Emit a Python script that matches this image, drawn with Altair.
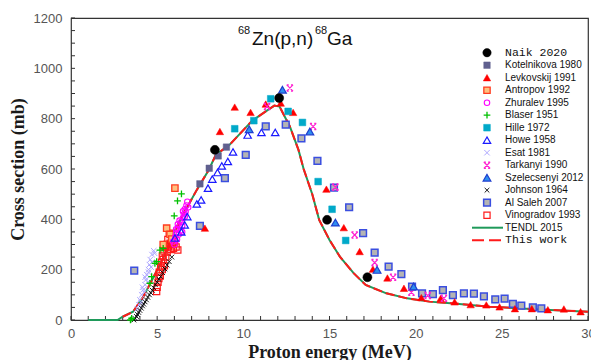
import altair as alt
import pandas as pd

# ---------------- data ----------------
tendl_E = [1.0, 2.0, 2.7, 3.0, 3.6, 4.2, 4.8, 5.4, 5.9, 6.5, 7.3, 8.0, 8.4, 9.2, 10.5, 11.3, 11.8, 12.1,
           12.7, 13.2, 13.5, 14.0, 14.4, 15.0, 15.6, 16.4, 17.1, 18.3, 19.5, 20.8, 22.2, 24.3, 27.2, 30.0]
tendl_mb = [0, 0, 0, 13, 33, 93, 172, 252, 338, 418, 517, 597, 656, 696, 791, 829, 852, 848,
            769, 676, 600, 500, 398, 318, 252, 186, 139, 106, 86, 73, 66, 53, 42, 33]
work_E = [3.0, 3.6, 4.2, 4.8, 5.4, 5.9, 6.5, 7.3, 8.0, 8.4, 9.2, 10.5, 11.3, 11.8, 12.1,
          12.7, 13.2, 13.5, 14.0, 14.4, 15.0, 15.6, 16.4, 17.1, 18.3, 19.5, 20.8, 22.2, 24.3, 27.2, 30.0]
work_mb = [13, 33, 93, 172, 252, 338, 418, 517, 597, 656, 696, 791, 829, 852, 848,
           769, 676, 600, 500, 398, 318, 252, 186, 139, 106, 86, 73, 66, 53, 42, 33]

naik_E = [8.35, 12.08, 14.86, 17.2]
naik_mb = [676, 882, 398, 170]
kotel_E = [7.48, 8.02, 8.54, 9.02]
kotel_mb = [541, 603, 652, 687]
levk_E = [7.77, 8.64, 9.5, 10.42, 11.3, 12.17, 12.89, 14.82, 15.83, 16.75, 17.52, 18.36, 19.32, 20.33,
          21.45, 22.26, 23.19, 24.1, 24.87, 25.76, 26.74, 27.67, 28.6, 29.57]
levk_mb = [365, 749, 846, 825, 858, 862, 825, 520, 367, 272, 202, 167, 126, 89,
           86, 72, 61, 60, 52, 45, 45, 41, 44, 33]
antropov_E = [6.03, 5.55, 5.75, 5.35, 5.85]
antropov_mb = [524, 365, 340, 300, 322]
zhuralev_E = [5.93, 6.0, 6.05, 6.1, 6.15, 6.2, 6.25, 6.3, 6.35, 6.4, 6.45, 6.5, 6.55, 6.6, 6.65, 6.7,
              6.75, 6.8, 6.3, 6.2, 6.45, 6.6, 6.1, 6.5]
zhuralev_mb = [312, 300, 330, 345, 320, 360, 340, 372, 355, 390, 375, 405, 420, 440, 430, 455,
               470, 448, 395, 380, 350, 410, 360, 432]
blaser_E = [3.45, 3.52, 4.58, 4.68, 4.87, 4.97, 5.16, 5.35, 5.99, 6.18, 6.41]
blaser_mb = [0, 7, 146, 172, 225, 232, 278, 285, 414, 473, 501]
hille_E = [9.5, 10.61, 11.59, 12.6, 13.43, 14.34, 15.15, 15.94]
hille_mb = [760, 792, 879, 829, 785, 550, 440, 316]
howe_E = [6.03, 6.4, 6.6, 6.75, 7.3, 7.55, 7.95, 8.2, 8.5, 8.75, 9.1, 9.4, 10.25, 11.05, 11.85]
howe_mb = [326, 350, 378, 411, 461, 477, 524, 560, 586, 612, 630, 668, 735, 745, 745]
esat_E = [3.85, 3.95, 4.0, 4.05, 4.1, 4.15, 4.2, 4.25, 4.3, 4.3, 4.35, 4.4, 4.45, 4.5, 4.5, 4.55,
          4.6, 4.65, 4.7, 4.7, 4.8, 4.85]
esat_mb = [45, 60, 80, 70, 100, 130, 120, 110, 140, 170, 160, 180, 150, 200, 190, 220,
           240, 210, 260, 230, 275, 265]
tark_E = [11.38, 12.7, 14.05, 15.34, 16.46, 17.62, 18.69, 19.75, 20.7, 21.64]
tark_mb = [848, 922, 769, 528, 338, 228, 170, 110, 97, 86]
szel_E = [10.34, 12.27, 13.86, 15.34, 17.76, 19.88]
szel_mb = [758, 915, 749, 387, 199, 133]
johnson_E = [3.65, 3.72, 3.8, 3.86, 3.93, 4.0, 4.08, 4.15, 4.22, 4.3, 4.38, 4.46, 4.55, 4.63, 4.72,
             4.8, 4.9, 5.0, 5.1, 5.2, 5.32, 5.45, 5.58, 5.7, 5.85]
johnson_mb = [0, 6, 14, 22, 30, 38, 47, 56, 63, 72, 80, 90, 100, 108, 118,
              128, 140, 150, 162, 173, 188, 203, 218, 232, 250]
alsaleh_E = [3.67, 7.48, 8.93, 10.14, 11.3, 12.46, 13.37, 14.3, 15.26, 16.14, 16.95, 17.62, 18.43,
             19.17, 19.79, 20.37, 21.0, 21.58, 22.16, 22.8, 23.38, 23.96, 24.62, 25.16, 25.64,
             26.13, 26.8, 27.29]
alsaleh_mb = [196, 374, 564, 656, 769, 776, 722, 632, 526, 448, 345, 268, 212,
              182, 133, 106, 103, 119, 99, 106, 105, 94, 82, 85, 64, 57, 50, 46]
vino_E = [4.97, 5.0, 5.05, 5.1, 5.12, 5.18, 5.2, 5.25, 5.3, 5.3, 5.35, 5.4, 5.42, 5.48, 5.5, 5.55,
          5.58, 5.62, 5.65, 5.7, 5.75, 5.8, 5.85, 5.9, 5.95, 6.0, 6.1, 6.2]
vino_mb = [113, 130, 150, 165, 190, 175, 210, 230, 200, 255, 240, 270, 215, 290, 250, 300,
           270, 320, 290, 345, 305, 280, 320, 300, 285, 310, 290, 278]

x_ticks_major = [0, 5, 10, 15, 20, 25, 30]
y_ticks_major = [0, 200, 400, 600, 800, 1000, 1200]
x_ticks_minor = list(range(0, 31))
y_ticks_minor = list(range(0, 1201, 50))

legend_labels = ["Naik 2020", "Kotelnikova 1980", "Levkovskij 1991", "Antropov 1992", "Zhuralev 1995",
                 "Blaser 1951", "Hille 1972", "Howe 1958", "Esat 1981", "Tarkanyi 1990",
                 "Szelecsenyi 2012", "Johnson 1964", "Al Saleh 2007", "Vinogradov 1993",
                 "TENDL 2015", "This work"]

# ---------------- styles ----------------
PLUS = "M-1,0L1,0M0,-1L0,1"
XSH = "M-1,-1L1,1M-1,1L1,-1"
TARK = "M-1,-1L1,1M-1,1L1,-1M-1,-1L-0.35,-1M0.35,-1L1,-1M-1,1L-0.35,1M0.35,1L1,1"

styles = {
    "Naik 2020": dict(shape="circle", size=81, filled=True, fill="#000000", stroke="#000000", strokeWidth=0.5),
    "Kotelnikova 1980": dict(shape="square", size=42, filled=True, fill="#60608f", stroke="#60608f", strokeWidth=0.5),
    "Levkovskij 1991": dict(shape="triangle-up", size=55, filled=True, fill="#ff0000", stroke="#ff0000", strokeWidth=0.5),
    "Antropov 1992": dict(shape="square", size=40, filled=True, fill="#ffc080", stroke="#ff3b1f", strokeWidth=1.3),
    "Zhuralev 1995": dict(shape="circle", size=30, filled=False, color="#ff00ff", strokeWidth=1.1),
    "Blaser 1951": dict(shape=PLUS, size=45, filled=False, color="#00c000", strokeWidth=1.3),
    "Hille 1972": dict(shape="square", size=45, filled=True, fill="#00a9c9", stroke="#00a9c9", strokeWidth=0.5),
    "Howe 1958": dict(shape="triangle-up", size=55, filled=False, color="#1a1aff", strokeWidth=1.2),
    "Esat 1981": dict(shape=XSH, size=30, filled=False, color="#aea8ff", strokeWidth=1.0),
    "Tarkanyi 1990": dict(shape=TARK, size=40, filled=False, color="#ff20d0", strokeWidth=1.2),
    "Szelecsenyi 2012": dict(shape="triangle-up", size=60, filled=True, fill="#2f8fef", stroke="#1f3fcf", strokeWidth=1.2),
    "Johnson 1964": dict(shape=XSH, size=22, filled=False, color="#000000", strokeWidth=0.9),
    "Al Saleh 2007": dict(shape="square", size=45, filled=True, fill="#b4b4b4", stroke="#3a4ee0", strokeWidth=1.5),
    "Vinogradov 1993": dict(shape="square", size=38, filled=False, color="#ff1a1a", strokeWidth=1.2),
}

series = [
    ("Vinogradov 1993", vino_E, vino_mb),
    ("Antropov 1992", antropov_E, antropov_mb),
    ("Esat 1981", esat_E, esat_mb),
    ("Zhuralev 1995", zhuralev_E, zhuralev_mb),
    ("Johnson 1964", johnson_E, johnson_mb),
    ("Blaser 1951", blaser_E, blaser_mb),
    ("Howe 1958", howe_E, howe_mb),
    ("Kotelnikova 1980", kotel_E, kotel_mb),
    ("Al Saleh 2007", alsaleh_E, alsaleh_mb),
    ("Levkovskij 1991", levk_E, levk_mb),
    ("Hille 1972", hille_E, hille_mb),
    ("Tarkanyi 1990", tark_E, tark_mb),
    ("Szelecsenyi 2012", szel_E, szel_mb),
    ("Naik 2020", naik_E, naik_mb),
]

W, H = 517, 302

xscale = alt.Scale(domain=[0, 30], nice=False, zero=False)
yscale = alt.Scale(domain=[0, 1200], nice=False, zero=False)
xaxis = alt.Axis(values=x_ticks_major, format="d", ticks=False, domain=False, grid=False, labelFlush=False,
                 labelOverlap=False, labelFont="Liberation Sans", labelFontSize=13, labelColor="#555555",
                 labelPadding=7, titleFont="Liberation Serif", titleFontSize=18, titleFontWeight="bold",
                 titleColor="#1a1a1a", titleY=37, titleBaseline="alphabetic")
yaxis = alt.Axis(values=y_ticks_major, format="d", ticks=False, domain=False, grid=False, labelFlush=False,
                 labelOverlap=False, labelFont="Liberation Sans", labelFontSize=13, labelColor="#555555",
                 labelPadding=9, titleFont="Liberation Serif", titleFontSize=18, titleFontWeight="bold",
                 titleColor="#1a1a1a", titleX=-53, titleY=H / 2, titleAlign="center",
                 titleBaseline="middle", titleAngle=-90)
X = alt.X("E:Q", scale=xscale, axis=xaxis, title="Proton energy (MeV)")
Y = alt.Y("mb:Q", scale=yscale, axis=yaxis, title="Cross section (mb)")

layers = []

# inner ticks
layers.append(alt.Chart(pd.DataFrame({"E": x_ticks_minor})).mark_rule(color="#333333", strokeWidth=1)
              .encode(x=X, y=alt.value(H), y2=alt.value(H - 4)))
layers.append(alt.Chart(pd.DataFrame({"mb": y_ticks_minor})).mark_rule(color="#333333", strokeWidth=1)
              .encode(y=Y, x=alt.value(0), x2=alt.value(4)))

# curves
layers.append(alt.Chart(pd.DataFrame({"E": tendl_E, "mb": tendl_mb})).mark_line(color="#1f9a5a", strokeWidth=2)
              .encode(x=X, y=Y))
layers.append(alt.Chart(pd.DataFrame({"E": work_E, "mb": work_mb})).mark_line(color="#ff1a1a", strokeWidth=2,
                                                                             strokeDash=[9, 4])
              .encode(x=X, y=Y))


def mk(style, **extra):
    kw = dict(style)
    kw["opacity"] = 1
    kw.update(extra)
    return kw


for name, e, m in series:
    layers.append(alt.Chart(pd.DataFrame({"E": e, "mb": m})).mark_point(**mk(styles[name]))
                  .encode(x=X, y=Y))

# legend
dummy = pd.DataFrame({"a": [0]})
LX_SYM, LX_TXT, LY0, LDY = 416, 434, 34.7, 12.5
for i, lab in enumerate(legend_labels):
    ly = LY0 + LDY * i
    if lab == "TENDL 2015":
        layers.append(alt.Chart(dummy).mark_rule(color="#1f9a5a", strokeWidth=2)
                      .encode(x=alt.value(401), x2=alt.value(432), y=alt.value(ly)))
    elif lab == "This work":
        layers.append(alt.Chart(dummy).mark_rule(color="#ff1a1a", strokeWidth=2, strokeDash=[12, 5])
                      .encode(x=alt.value(401), x2=alt.value(430), y=alt.value(ly)))
    else:
        st = dict(styles[lab])
        if lab == "Naik 2020":
            st["size"] = 70
        layers.append(alt.Chart(dummy).mark_point(**mk(st))
                      .encode(x=alt.value(LX_SYM), y=alt.value(ly)))
    mono = lab in ("Naik 2020", "This work")
    layers.append(alt.Chart(dummy).mark_text(
        text=lab, align="left", baseline="middle",
        font="Liberation Mono" if mono else "Liberation Sans",
        fontSize=11.5 if mono else 10, color="#111111")
        .encode(x=alt.value(LX_TXT), y=alt.value(ly)))

# reaction title
title_parts = [("68", 167, 16, 11), ("Zn(p,n)", 181, 27, 19), ("68", 244, 16, 11), ("Ga", 256, 27, 19)]
for txt, tx, ty, fs in title_parts:
    layers.append(alt.Chart(dummy).mark_text(text=txt, align="left", baseline="alphabetic",
                                             font="Liberation Sans", fontSize=fs, color="#111111")
                  .encode(x=alt.value(tx), y=alt.value(ty)))

chart = alt.layer(*layers).properties(
    width=W, height=H,
    autosize=alt.AutoSizeParams(type="none"),
    padding={"left": 71, "top": 18, "right": 3, "bottom": 40},
    background="white",
).configure_view(stroke="#333333", strokeWidth=1.2)

chart.save("out.html", embed_options={"renderer": "svg", "actions": False})
